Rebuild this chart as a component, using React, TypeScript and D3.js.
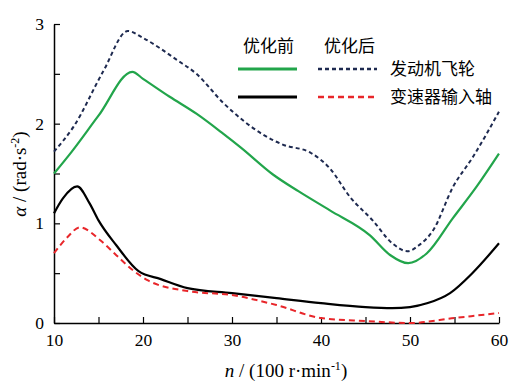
import * as d3 from 'd3'
import React, { useEffect, useRef } from 'react'

// 发动机飞轮 优化前
const flywheelBeforeN = [10, 12, 15, 18.8, 20, 23, 26, 29, 31, 34.6, 37.5, 41, 45.5, 47.8, 49.8, 51.9, 54.8, 57.5, 60]
const flywheelBeforeA = [1.5, 1.72, 2.08, 2.52, 2.45, 2.27, 2.1, 1.9, 1.76, 1.49, 1.32, 1.13, 0.88, 0.68, 0.6, 0.7, 1.05, 1.37, 1.7]

// 发动机飞轮 优化后
const flywheelAfterN = [10, 12.2, 15.5, 18.3, 20, 23.8, 26, 29, 33.5, 35.7, 38.8, 41, 43.3, 45.8, 48, 49.7, 51, 52.6, 54.8, 57.1, 60]
const flywheelAfterA = [1.72, 1.97, 2.52, 2.93, 2.86, 2.64, 2.5, 2.21, 1.89, 1.79, 1.71, 1.55, 1.26, 1.03, 0.8, 0.72, 0.78, 0.93, 1.36, 1.67, 2.12]

// 变速器输入轴 优化前
const gearboxBeforeN = [10, 11, 12.6, 14, 15, 17, 19.5, 22, 25, 30, 35, 40, 45, 48, 50, 52, 54.5, 57, 60]
const gearboxBeforeA = [1.1, 1.25, 1.37, 1.2, 1.03, 0.78, 0.52, 0.44, 0.35, 0.3, 0.25, 0.2, 0.16, 0.15, 0.16, 0.2, 0.3, 0.5, 0.8]

// 变速器输入轴 优化后
const gearboxAfterN = [10, 11.5, 12.9, 15.2, 17, 19, 20.5, 25, 30, 35, 40, 45, 50, 55, 60]
const gearboxAfterA = [0.7, 0.86, 0.96, 0.83, 0.68, 0.52, 0.43, 0.32, 0.28, 0.18, 0.05, 0.02, 0.0, 0.05, 0.1]

const xTicks = [10, 15, 20, 25, 30, 35, 40, 45, 50, 55, 60]
const yTicks = [0, 0.5, 1, 1.5, 2, 2.5, 3]

const width = 527
const height = 386

const serif = '"Liberation Serif", "Times New Roman", serif'
const cjk = '"Noto Sans CJK SC", sans-serif'

const series = [
  { n: flywheelBeforeN, a: flywheelBeforeA, color: '#22a54b', dash: null, w: 2.2 },
  { n: flywheelAfterN, a: flywheelAfterA, color: '#1e2a50', dash: '4,3', w: 2 },
  { n: gearboxBeforeN, a: gearboxBeforeA, color: '#000000', dash: null, w: 2.2 },
  { n: gearboxAfterN, a: gearboxAfterA, color: '#e8262a', dash: '6,4', w: 2 },
]

const App: React.FC = () => {
  const ref = useRef<SVGSVGElement>(null)

  useEffect(() => {
    const svg = d3.select(ref.current)
    svg.selectAll('*').remove()

    const x = d3.scaleLinear().domain([10, 60]).range([54, 499])
    const y = d3.scaleLinear().domain([0, 3]).range([323, 24])

    // axes, ticks point inward
    const gx = svg
      .append('g')
      .attr('transform', 'translate(0,' + y(0) + ')')
      .call(
        d3
          .axisBottom(x)
          .tickValues(xTicks)
          .tickSizeInner(-6)
          .tickSizeOuter(0)
          .tickPadding(11)
          .tickFormat((d) => ((d as number) % 10 === 0 ? String(d) : ''))
      )
    const gy = svg
      .append('g')
      .attr('transform', 'translate(' + x(10) + ',0)')
      .call(
        d3
          .axisLeft(y)
          .tickValues(yTicks)
          .tickSizeInner(-6)
          .tickSizeOuter(0)
          .tickPadding(10)
          .tickFormat((d) => (Number.isInteger(d as number) ? String(d) : ''))
      )
    ;[gx, gy].forEach((g) => {
      g.select('.domain').attr('stroke', '#000').attr('stroke-width', 1.5)
      g.selectAll('.tick line').attr('stroke', '#000').attr('stroke-width', 1.2)
      g.selectAll('.tick text').attr('font-family', serif).attr('font-size', 17.5).attr('fill', '#000')
    })

    // curves
    const line = d3
      .line<[number, number]>()
      .x((d) => x(d[0]))
      .y((d) => y(d[1]))
      .curve(d3.curveMonotoneX)

    series.forEach((s) => {
      const pts = s.n.map((v, i) => [v, s.a[i]] as [number, number])
      svg
        .append('path')
        .datum(pts)
        .attr('d', line)
        .attr('fill', 'none')
        .attr('stroke', s.color)
        .attr('stroke-width', s.w)
        .attr('stroke-dasharray', s.dash)
    })

    // legend
    const leg = svg.append('g').attr('font-family', cjk).attr('font-size', 17).attr('fill', '#000')
    leg.append('text').attr('x', 243).attr('y', 52).text('优化前')
    leg.append('text').attr('x', 324).attr('y', 52).text('优化后')
    leg.append('text').attr('x', 390).attr('y', 75).text('发动机飞轮')
    leg.append('text').attr('x', 390).attr('y', 103).text('变速器输入轴')

    const legLines = [
      { x1: 238, x2: 297, yy: 69, s: series[0] },
      { x1: 318, x2: 377, yy: 69, s: series[1] },
      { x1: 238, x2: 297, yy: 97, s: series[2] },
      { x1: 318, x2: 377, yy: 97, s: series[3] },
    ]
    legLines.forEach((l) => {
      svg
        .append('line')
        .attr('x1', l.x1)
        .attr('x2', l.x2)
        .attr('y1', l.yy)
        .attr('y2', l.yy)
        .attr('stroke', l.s.color)
        .attr('stroke-width', l.s.w + 0.6)
        .attr('stroke-dasharray', l.s.dash)
    })

    // axis titles
    const xt = svg
      .append('text')
      .attr('x', 286)
      .attr('y', 377)
      .attr('text-anchor', 'middle')
      .attr('font-family', serif)
      .attr('font-size', 19)
    xt.append('tspan').attr('font-style', 'italic').text('n')
    xt.append('tspan').text(' / (100 r·min')
    xt.append('tspan').attr('font-size', 12).attr('dy', -7).text('-1')
    xt.append('tspan').attr('dy', 7).text(')')

    const yt = svg
      .append('text')
      .attr('transform', 'translate(26,174) rotate(-90)')
      .attr('text-anchor', 'middle')
      .attr('font-family', serif)
      .attr('font-size', 19)
    yt.append('tspan').attr('font-style', 'italic').text('α')
    yt.append('tspan').text(' / (rad·s')
    yt.append('tspan').attr('font-size', 12).attr('dy', -7).text('-2')
    yt.append('tspan').attr('dy', 7).text(')')
  }, [])

  return (
    <svg
      ref={ref}
      width={width}
      height={height}
      style={{ position: 'absolute', left: 0, top: 0, background: '#fff' }}
    />
  )
}

export default App
